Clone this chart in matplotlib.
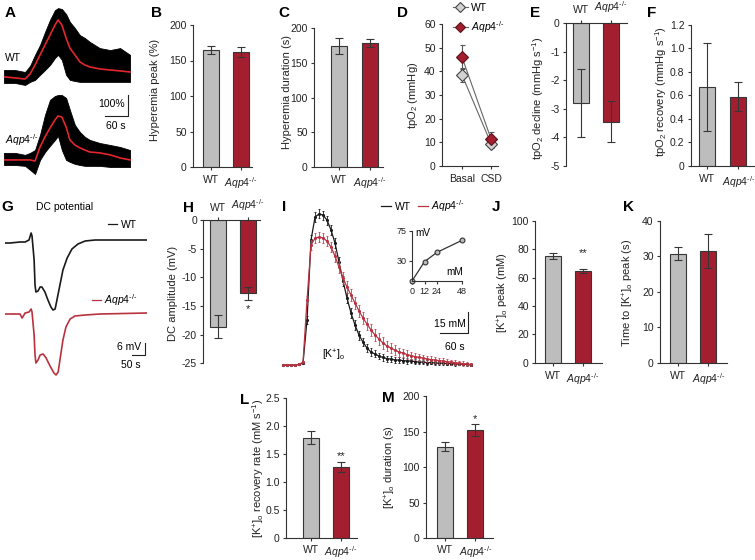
import numpy as np
import matplotlib
matplotlib.use('Agg')
import matplotlib.pyplot as plt
from matplotlib.lines import Line2D

plt.rcParams['font.family'] = ['Liberation Sans', 'DejaVu Sans']
plt.rcParams['mathtext.fontset'] = 'custom'
plt.rcParams['mathtext.rm'] = 'Liberation Sans'
plt.rcParams['mathtext.it'] = 'Liberation Sans:italic'
plt.rcParams['mathtext.bf'] = 'Liberation Sans:bold'
plt.rcParams['font.size'] = 7.5

# ---------------- data ----------------
GROUPS = ['WT', r'$\mathit{Aqp4}^{\text{-/-}}$']

# A: hyperemia traces (s, % change); envelope of single traces + mean
A_TIME = [0, 29, 55, 68, 81, 94, 107, 120, 133, 141, 151, 162, 172, 185, 198, 211, 224, 250, 277, 303, 329]
A_WT_MEAN = [5, 0, -5, 18, 59, 105, 150, 195, 241, 264, 241, 182, 136, 105, 73, 59, 50, 41, 36, 32, 27]
A_WT_HI = [36, 36, 27, 55, 105, 150, 209, 264, 309, 318, 314, 291, 255, 227, 195, 182, 164, 136, 127, 136, 105]
A_WT_LO = [-23, -23, -32, -18, -9, 14, 36, 59, 91, 105, 82, 14, -9, -14, -18, -18, -18, -18, -18, -18, -18]
A_KO_MEAN = [0, 0, 0, 0, -5, 59, 105, 145, 182, 200, 195, 150, 91, 68, 55, 45, 36, 32, 23, 9, 0]
A_KO_HI = [32, 32, 23, 32, 45, 114, 205, 273, 291, 295, 295, 282, 227, 159, 127, 105, 91, 77, 68, 59, 45]
A_KO_LO = [-23, -23, -27, -45, -64, 0, 36, 64, 91, 109, 45, 0, -9, -18, -23, -27, -27, -27, -32, -32, -32]

# B, C
B_VALS = [164.5, 162.0]; B_ERRS = [5.5, 7.5]
C_VALS = [174.5, 179.0]; C_ERRS = [12.0, 6.0]
# D: tpO2 basal / CSD
D_COND = ['Basal', 'CSD']
D_WT = [38.5, 9.5]; D_WT_ERR = [3.0, 2.0]
D_KO = [46.0, 11.5]; D_KO_ERR = [5.0, 3.0]
# E, F
E_VALS = [-2.8, -3.45]; E_ERRS = [1.2, 0.72]
F_VALS = [0.67, 0.59]; F_ERRS = [0.375, 0.12]

# G: DC potential traces (s, mV)
G_TIME_WT = [0, 17, 50, 67, 80, 87, 90, 97, 100, 103, 110, 117, 123, 133, 143, 153, 160, 167, 173, 183, 193, 207, 223, 243, 267, 300, 350, 417, 473]
G_WT = [-0.5, -0.5, 0, 0, 1, 4.5, 3, -9, -21.5, -25, -24.5, -22.5, -22.5, -25, -29, -32.5, -34, -33.5, -29, -21.5, -14, -8, -3.5, -1, 0.5, 1, 1, 1, 1]
G_TIME_KO = [0, 17, 50, 57, 67, 80, 87, 90, 97, 100, 103, 110, 117, 127, 137, 150, 163, 170, 177, 183, 193, 203, 217, 233, 267, 317, 473]
G_KO = [0, 0, 0, -2, 0.5, 1, 2.5, 1, -10.5, -20.5, -24.5, -23, -20.5, -20, -22, -26, -29.5, -30.5, -29, -23, -13, -6.5, -2.5, -1, -0.5, 0, 0.5]

# H
H_VALS = [-18.6, -12.8]; H_ERRS = [2.05, 1.15]

# I: [K+]o traces, sampled every 8.57 s (mM, mean and SEM)
I_DT = 8.57
I_WT = [3.0, 3.0, 3.0, 3.0, 3.4, 4.4, 35.1, 92.3, 108.7, 110.9, 110.1, 106.5, 99.4, 90.1, 76.5, 63.0,
        50.8, 40.1, 31.6, 24.4, 19.4, 15.1, 12.3, 10.9, 9.4, 8.4, 7.6, 7.3, 6.6, 6.6, 6.2, 5.9,
        5.9, 5.5, 5.1, 5.1, 4.8, 4.8, 4.4, 4.4, 4.4, 4.1, 4.1, 3.7, 3.7, 3.7, 3.4, 3.0]
I_WT_ERR = [0.3, 0.3, 0.3, 0.3, 0.3, 0.5, 3.0, 3.5, 3.5, 3.2, 3.2, 3.2, 3.4, 3.6, 3.8, 3.8,
            3.8, 3.6, 3.4, 3.2, 3.0, 2.8, 2.6, 2.5, 2.4, 2.3, 2.2, 2.1, 2.0, 1.9, 1.8, 1.8,
            1.7, 1.6, 1.6, 1.5, 1.5, 1.4, 1.4, 1.3, 1.3, 1.2, 1.2, 1.1, 1.0, 1.0, 0.9, 0.8]
I_KO = [3.0, 3.0, 3.0, 3.0, 3.4, 5.1, 49.4, 88.7, 93.7, 94.4, 93.7, 91.5, 87.3, 80.8, 73.0, 65.1,
        58.7, 53.0, 47.3, 41.6, 36.6, 32.3, 28.0, 24.4, 21.6, 18.7, 16.6, 15.1, 13.7, 12.3, 11.6, 10.5,
        9.8, 9.1, 8.4, 8.0, 7.3, 6.9, 6.6, 6.2, 5.9, 5.5, 5.1, 4.8, 4.4, 4.1, 3.7, 3.4]
I_KO_ERR = [0.3, 0.3, 0.3, 0.3, 0.3, 0.5, 3.0, 3.5, 3.5, 3.5, 3.5, 3.6, 3.8, 4.0, 4.2, 4.4,
            4.5, 4.6, 4.6, 4.6, 4.6, 4.5, 4.4, 4.3, 4.2, 4.0, 3.8, 3.6, 3.4, 3.2, 3.0, 2.9,
            2.8, 2.7, 2.6, 2.5, 2.4, 2.3, 2.2, 2.1, 2.0, 1.9, 1.8, 1.7, 1.6, 1.5, 1.4, 1.3]
# I inset: electrode calibration
INSET_MM = [0, 12, 24, 48]
INSET_MV = [0, 29, 43, 61]

# J, K, L, M
J_VALS = [75.1, 64.6]; J_ERRS = [2.0, 1.5]
K_VALS = [30.7, 31.5]; K_ERRS = [1.9, 4.7]
L_VALS = [1.79, 1.26]; L_ERRS = [0.12, 0.09]
M_VALS = [129.0, 152.5]; M_ERRS = [6.3, 8.7]

# ---------------- style ----------------
GREY = '#bdbdbd'
RED = '#a31f30'
EDGE = '#363636'
AXC = '#333333'
TRACE_RED = '#e3262d'
KO_LINE = '#b8323f'
TICK_FS = 7.5
LAB_FS = 8.0

W, H = 755, 560
fig = plt.figure(figsize=(W / 100, H / 100), dpi=100)


def fx(x):
    return x / W


def fy(y):
    return 1 - y / H


def add_ax(x0, y0, x1, y1):
    return fig.add_axes([fx(x0), fy(y1), (x1 - x0) / W, (y1 - y0) / H])


def style(ax, top=False, xpad=3.5):
    ax.spines['right'].set_visible(False)
    if top:
        ax.spines['bottom'].set_visible(False)
        ax.xaxis.tick_top()
    else:
        ax.spines['top'].set_visible(False)
    for sp in ax.spines.values():
        sp.set_color(AXC)
        sp.set_linewidth(0.8)
    ax.tick_params(direction='out', length=2.5, width=0.8, color=AXC,
                   labelsize=TICK_FS, pad=2, labelcolor='#222222')
    ax.tick_params(axis='x', pad=xpad)
    ax.set_facecolor('none')


def ylabel_px(ax, text, x, y):
    ax.set_ylabel(text, fontsize=LAB_FS, color='#222222')
    ax.yaxis.label.set_va('center')
    ax.yaxis.set_label_coords(fx(x), fy(y), transform=fig.transFigure)


def bar_panel(box, centers, vals, errs, ylim, yticks, yticklabels, ylabel, ylab_xy,
              top=False, star=None, xpad=3.5):
    s, ytop, xend, ybot = box
    c_wt, c_aq = centers
    ax = add_ax(s, ytop, xend, ybot)
    sp = c_aq - c_wt
    ax.set_xlim(-(c_wt - s) / sp, 1 + (xend - c_aq) / sp)
    ax.set_ylim(*ylim)
    ax.bar([0, 1], vals, width=16 / sp, color=[GREY, RED], edgecolor=EDGE,
           linewidth=0.8, zorder=2)
    ax.errorbar([0, 1], vals, yerr=errs, fmt='none', ecolor=EDGE, elinewidth=0.8,
                capsize=3, capthick=0.8, zorder=3)
    style(ax, top, xpad)
    ax.set_xticks([0, 1])
    ax.set_xticklabels(GROUPS)
    ax.set_yticks(yticks)
    ax.set_yticklabels(yticklabels)
    ylabel_px(ax, ylabel, *ylab_xy)
    if star is not None:
        ax.text(1, star[1], star[0], ha='center', va='center', fontsize=8, color='#222222')
    return ax


# overlay for annotations in pixel coordinates
ov = fig.add_axes([0, 0, 1, 1])
ov.set_xlim(0, W)
ov.set_ylim(H, 0)
ov.axis('off')
ov.set_zorder(10)

# ---------------- A ----------------
axA1 = add_ax(4, 0, 132, 90)
axA1.fill_between(A_TIME, A_WT_LO, A_WT_HI, color='black', lw=0.6)
axA1.plot(A_TIME, A_WT_MEAN, color=TRACE_RED, lw=1.2)
axA1.set_xlim(0, 334)
axA1.set_ylim(-55, 355)
axA1.axis('off')

axA2 = add_ax(4, 90, 132, 185)
axA2.fill_between(A_TIME, A_KO_LO, A_KO_HI, color='black', lw=0.6)
axA2.plot(A_TIME, A_KO_MEAN, color=TRACE_RED, lw=1.2)
axA2.set_xlim(0, 334)
axA2.set_ylim(-114, 318)
axA2.axis('off')

ov.text(5, 58, 'WT', ha='left', va='center', fontsize=7.5)
ov.text(5, 140, GROUPS[1], ha='left', va='center', fontsize=7.5)
ov.plot([128, 128, 105], [95, 116, 116], color='#222222', lw=0.8)
ov.text(125, 104, '100%', ha='right', va='center', fontsize=7.5)
ov.text(116, 126, '60 s', ha='center', va='center', fontsize=7.5)

# ---------------- B, C ----------------
bar_panel((193, 25, 252, 167), (210.5, 241), B_VALS, B_ERRS, (0, 200),
          [0, 50, 100, 150, 200], ['0', '50', '100', '150', '200'],
          'Hyperemia peak (%)', (155, 90))
bar_panel((314, 28.3, 383, 166.7), (338.5, 370), C_VALS, C_ERRS, (0, 200),
          [0, 50, 100, 150, 200], ['0', '50', '100', '150', '200'],
          'Hyperemia duration (s)', (286.5, 92))

# ---------------- D ----------------
axD = add_ax(442, 24, 498, 166)
xd = [0, 1]
axD.errorbar(xd, D_WT, yerr=D_WT_ERR, fmt='none', ecolor='#555555', elinewidth=0.8,
             capsize=1.8, capthick=0.8, zorder=2)
axD.errorbar(xd, D_KO, yerr=D_KO_ERR, fmt='none', ecolor='#555555', elinewidth=0.8,
             capsize=1.8, capthick=0.8, zorder=2)
axD.plot(xd, D_WT, '-', color='#666666', lw=0.8, marker='D', ms=6.5, mfc='#d2d2d2',
         mec='#444444', mew=0.8, label='WT', zorder=3)
axD.plot(xd, D_KO, '-', color='#666666', lw=0.8, marker='D', ms=6.5, mfc=RED,
         mec='#5a1018', mew=0.8, label=GROUPS[1], zorder=4)
axD.set_xlim(-(462 - 442) / 29, 1 + (498 - 491) / 29)
axD.set_ylim(0, 60)
style(axD)
axD.set_xticks(xd)
axD.set_xticklabels(D_COND)
axD.set_yticks([0, 10, 20, 30, 40, 50, 60])
ylabel_px(axD, r'tpO$_2$ (mmHg)', 413, 95)
axD.legend(loc='upper left', bbox_to_anchor=(fx(453), fy(3)), bbox_transform=fig.transFigure,
           frameon=False, handlelength=1.4, handletextpad=0.3, labelspacing=0.6,
           borderpad=0, borderaxespad=0, fontsize=7.5, numpoints=1, markerscale=0.85)

# ---------------- E, F ----------------
bar_panel((566, 23.3, 627, 166), (581, 611), E_VALS, E_ERRS, (-5, 0),
          [0, -1, -2, -3, -4, -5], ['0', '-1', '-2', '-3', '-4', '-5'],
          r'tpO$_2$ decline (mmHg s$^{-1}$)', (538.5, 98), top=True)
bar_panel((690.7, 25, 755, 165.7), (706.7, 738.3), F_VALS, F_ERRS, (0, 1.2),
          [0, 0.2, 0.4, 0.6, 0.8, 1.0, 1.2], ['0', '0.2', '0.4', '0.6', '0.8', '1.0', '1.2'],
          r'tpO$_2$ recovery (mmHg s$^{-1}$)', (661.5, 92))

# ---------------- G ----------------
axG1 = add_ax(5, 215, 147, 320)
axG1.plot(G_TIME_WT, G_WT, color='#1a1a1a', lw=1.2, label='WT')
axG1.set_xlim(0, 473)
axG1.set_ylim(-39, 13.5)
axG1.axis('off')
axG1.legend(handles=[Line2D([], [], color='#1a1a1a', lw=0.9)], labels=['WT'],
            loc='center left', bbox_to_anchor=(fx(108), fy(225)), bbox_transform=fig.transFigure,
            frameon=False, handlelength=0.9, handletextpad=0.3, borderpad=0, borderaxespad=0,
            fontsize=7.5)

axG2 = add_ax(5, 295, 147, 385)
axG2.plot(G_TIME_KO, G_KO, color=KO_LINE, lw=1.2, label=GROUPS[1])
axG2.set_xlim(0, 473)
axG2.set_ylim(-35.5, 9.5)
axG2.axis('off')
axG2.legend(handles=[Line2D([], [], color=KO_LINE, lw=0.9)], labels=[GROUPS[1]],
            loc='center left', bbox_to_anchor=(fx(92), fy(300)), bbox_transform=fig.transFigure,
            frameon=False, handlelength=0.9, handletextpad=0.3, borderpad=0, borderaxespad=0,
            fontsize=7.5)

ov.text(65, 207, 'DC potential', ha='center', va='center', fontsize=7.5)
ov.plot([145, 145, 132], [343, 355, 355], color='#222222', lw=0.8)
ov.text(141, 347, '6 mV', ha='right', va='center', fontsize=7.5)
ov.text(141, 365, '50 s', ha='right', va='center', fontsize=7.5)

# ---------------- H ----------------
bar_panel((203.3, 220, 260, 363.3), (218.3, 247.5), H_VALS, H_ERRS, (-25, 0),
          [0, -5, -10, -15, -20, -25], ['0', '-5', '-10', '-15', '-20', '-25'],
          'DC amplitude (mV)', (172.5, 293), top=True, star=('*', -15.6), xpad=2.5)

# ---------------- I ----------------
axI = add_ax(270, 205, 480, 375)
tI = np.arange(len(I_WT)) * I_DT
axI.errorbar(tI, I_WT, yerr=I_WT_ERR, color='#1a1a1a', ecolor='#1a1a1a', lw=0.9,
             elinewidth=0.6, capsize=1.0, capthick=0.6, marker='.', ms=2.5, zorder=2)
axI.errorbar(tI, I_KO, yerr=I_KO_ERR, color=KO_LINE, ecolor='#c4404f', lw=0.9,
             elinewidth=0.6, capsize=1.0, capthick=0.6, marker='.', ms=2.5, zorder=3)
axI.set_xlim(-27.9, 422)
axI.set_ylim(-4.1, 117.3)
axI.axis('off')
axI.legend(handles=[Line2D([], [], color='#1a1a1a', lw=0.9), Line2D([], [], color=KO_LINE, lw=0.9)],
           labels=GROUPS, loc='center left', bbox_to_anchor=(fx(381), fy(206)),
           bbox_transform=fig.transFigure, ncol=2, frameon=False, handlelength=1.0,
           handletextpad=0.3, columnspacing=0.7, borderpad=0, borderaxespad=0, fontsize=7.5)
ov.text(334, 355, r'[K$^{+}$]$_{\mathrm{o}}$', ha='center', va='center', fontsize=7.5)
ov.plot([468, 468, 440], [312, 333, 333], color='#222222', lw=0.8)
ov.text(466, 324, '15 mM', ha='right', va='center', fontsize=7.5)
ov.text(455, 347, '60 s', ha='center', va='center', fontsize=7.5)

axIn = add_ax(412, 231, 462, 281)
axIn.plot(INSET_MM, INSET_MV, '-', color='#333333', lw=0.9, marker='o', ms=3.5,
          mfc='#bbbbbb', mec='#333333', mew=0.8, clip_on=False)
axIn.set_xlim(0, 48)
axIn.set_ylim(0, 75)
style(axIn)
axIn.tick_params(labelsize=6.5, length=2, pad=2)
axIn.set_xticks(INSET_MM)
axIn.set_yticks([30, 75])
axIn.text(0.06, 0.95, 'mV', transform=axIn.transAxes, ha='left', va='center', fontsize=7.2)
axIn.text(0.86, 0.18, 'mM', transform=axIn.transAxes, ha='center', va='center', fontsize=7.2)

# ---------------- J, K ----------------
bar_panel((535, 220.7, 601.7, 362.7), (552.8, 582.8), J_VALS, J_ERRS, (0, 100),
          [0, 20, 40, 60, 80, 100], ['0', '20', '40', '60', '80', '100'],
          r'[K$^{+}$]$_{\mathrm{o}}$ peak (mM)', (503, 293), star=('**', 77))
bar_panel((660, 220.7, 726.7, 362.7), (678.3, 708.3), K_VALS, K_ERRS, (0, 40),
          [0, 10, 20, 30, 40], ['0', '10', '20', '30', '40'],
          r'Time to [K$^{+}$]$_{\mathrm{o}}$ peak (s)', (628, 293))

# ---------------- L, M ----------------
bar_panel((286, 397.6, 356.7, 538.3), (311.3, 341), L_VALS, L_ERRS, (0, 2.5),
          [0, 0.5, 1.0, 1.5, 2.0, 2.5], ['0', '0.5', '1.0', '1.5', '2.0', '2.5'],
          r'[K$^{+}$]$_{\mathrm{o}}$ recovery rate (mM s$^{-1}$)', (258, 468), star=('**', 1.46),
          xpad=2.0)
bar_panel((426, 396, 493, 538.3), (445.3, 475.3), M_VALS, M_ERRS, (0, 200),
          [0, 50, 100, 150, 200], ['0', '50', '100', '150', '200'],
          r'[K$^{+}$]$_{\mathrm{o}}$ duration (s)', (390, 467), star=('*', 168), xpad=2.0)

# ---------------- panel letters ----------------
LETTERS = [('A', 10, 13), ('B', 156, 13), ('C', 284, 13), ('D', 402, 13), ('E', 535, 13),
           ('F', 652, 13), ('G', 7, 207), ('H', 189, 208), ('I', 284, 207), ('J', 496, 207),
           ('K', 628, 207), ('L', 245, 400), ('M', 388, 398)]
for letter, lx, ly in LETTERS:
    ov.text(lx, ly, letter, ha='center', va='center', fontsize=11, fontweight='bold')

fig.savefig('out.png', dpi=100, facecolor='white')
